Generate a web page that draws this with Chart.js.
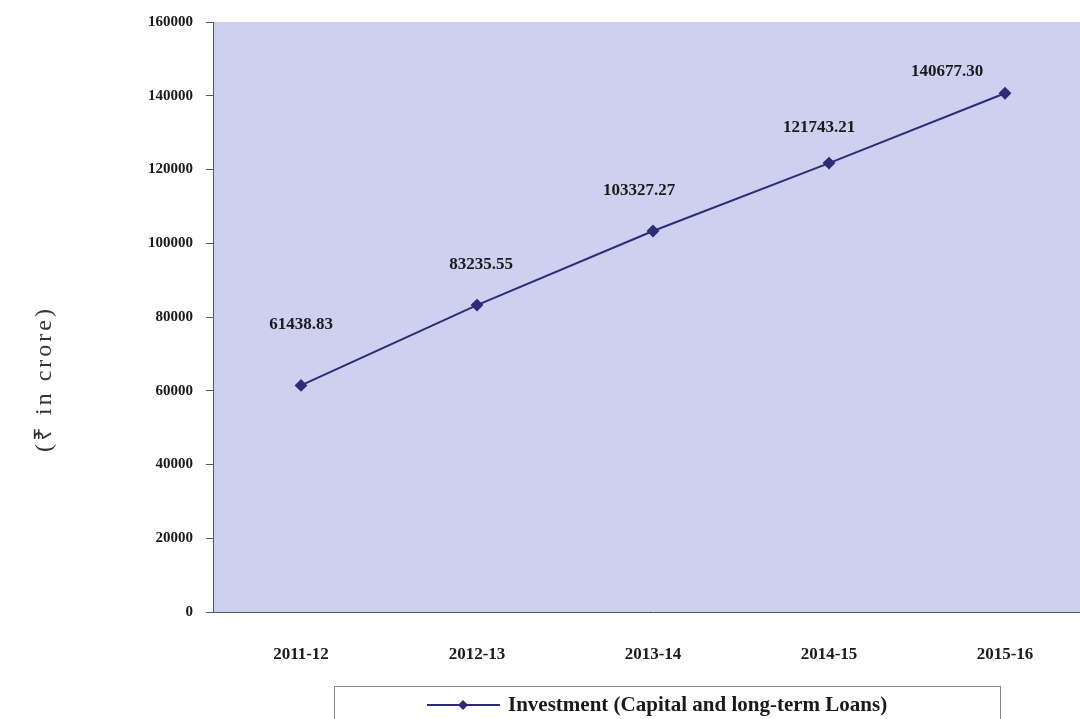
<!DOCTYPE html>
<html>
<head>
<meta charset="utf-8">
<script src="https://cdn.jsdelivr.net/npm/chart.js@4.4.1/dist/chart.umd.min.js"></script>
<style>
  html, body { margin: 0; padding: 0; background: #fff; overflow: hidden; }
  #wrap { position: absolute; left: 0; top: 0; width: 1100px; height: 735px; }
</style>
</head>
<body>
<div id="wrap"><canvas id="myChart" width="1100" height="735"></canvas></div>
<script>
const years = ['2011-12', '2012-13', '2013-14', '2014-15', '2015-16']
const investment = [61438.83, 83235.55, 103327.27, 121743.21, 140677.30]
const yTicks = [0, 20000, 40000, 60000, 80000, 100000, 120000, 140000, 160000]

const serif = '"Liberation Serif", "Times New Roman", serif'
const lineColor = '#2c2c78'

// label nudges (dx, dy) around each point, as in the original
const labelNudge = [[0, -61], [4, -40], [-14, -40], [-10, -35], [-58, -22]]

const plotBg = {
    id: 'plotBg',
    beforeDraw(chart) {
        const { ctx, chartArea } = chart
        ctx.save()
        ctx.fillStyle = '#cdd0ef'
        ctx.fillRect(chartArea.left, chartArea.top, chartArea.right - chartArea.left, chartArea.bottom - chartArea.top)
        ctx.restore()
    },
}

const valueLabels = {
    id: 'valueLabels',
    afterDatasetsDraw(chart) {
        const ctx = chart.ctx
        const meta = chart.getDatasetMeta(0)
        ctx.save()
        ctx.font = 'bold 17px ' + serif
        ctx.fillStyle = '#1a1a1a'
        ctx.textAlign = 'center'
        ctx.textBaseline = 'middle'
        meta.data.forEach((pt, i) => {
            const v = chart.data.datasets[0].data[i]
            ctx.fillText(v.toFixed(2), pt.x + labelNudge[i][0], pt.y + labelNudge[i][1])
        })
        ctx.restore()
    },
}

const extras = {
    id: 'extras',
    afterDraw(chart) {
        const ctx = chart.ctx
        const area = chart.chartArea
        ctx.save()
        // y axis title
        ctx.translate(45, (area.top + area.bottom) / 2 + 62)
        ctx.rotate(-Math.PI / 2)
        ctx.font = '24px ' + serif
        ctx.letterSpacing = '3px'
        ctx.fillStyle = '#333'
        ctx.textAlign = 'center'
        ctx.textBaseline = 'middle'
        ctx.fillText('(\u20B9 in crore)', 0, 0)
        ctx.restore()

        // legend box
        ctx.save()
        ctx.strokeStyle = '#888'
        ctx.lineWidth = 1
        ctx.strokeRect(334.5, 686.5, 666, 60)
        ctx.strokeStyle = lineColor
        ctx.lineWidth = 2
        ctx.beginPath()
        ctx.moveTo(427, 705)
        ctx.lineTo(500, 705)
        ctx.stroke()
        ctx.fillStyle = lineColor
        ctx.beginPath()
        ctx.moveTo(463, 700)
        ctx.lineTo(468, 705)
        ctx.lineTo(463, 710)
        ctx.lineTo(458, 705)
        ctx.closePath()
        ctx.fill()
        ctx.font = 'bold 21px ' + serif
        ctx.fillStyle = '#1a1a1a'
        ctx.textBaseline = 'middle'
        ctx.fillText(chart.data.datasets[0].label, 508, 706)
        ctx.restore()
    },
}

const data = {
    labels: years,
    datasets: [
        {
            label: 'Investment (Capital and long-term Loans)',
            data: investment,
            borderColor: lineColor,
            backgroundColor: lineColor,
            borderWidth: 2,
            pointStyle: 'rectRot',
            pointRadius: 5,
            pointBackgroundColor: lineColor,
            pointBorderColor: lineColor,
            tension: 0,
        },
    ],
}

const config = {
    type: 'line',
    data: data,
    options: {
        responsive: false,
        animation: false,
        layout: { padding: { top: 20, right: 0, bottom: 63, left: 0 } },
        plugins: {
            legend: { display: false },
            tooltip: { enabled: false },
        },
        scales: {
            x: {
                offset: true,
                grid: { display: false },
                border: { display: true, color: '#555', width: 1 },
                ticks: {
                    font: { family: serif, size: 17, weight: 'bold' },
                    color: '#1a1a1a',
                    padding: 24,
                },
                afterFit(scale) { scale.height = 60 },
            },
            y: {
                min: 0,
                max: 160000,
                afterBuildTicks(scale) { scale.ticks = yTicks.map((v) => ({ value: v })) },
                grid: { drawOnChartArea: false, tickLength: 7, color: '#555' },
                border: { display: true, color: '#555', width: 1 },
                ticks: {
                    font: { family: serif, size: 15, weight: 'bold' },
                    color: '#1a1a1a',
                    padding: 13,
                    callback: (v) => String(v),
                },
                afterFit(scale) { scale.width = 213 },
            },
        },
    },
    plugins: [plotBg, valueLabels, extras],
}

const myChart = new Chart(document.getElementById('myChart'), config)
</script>
</body>
</html>
